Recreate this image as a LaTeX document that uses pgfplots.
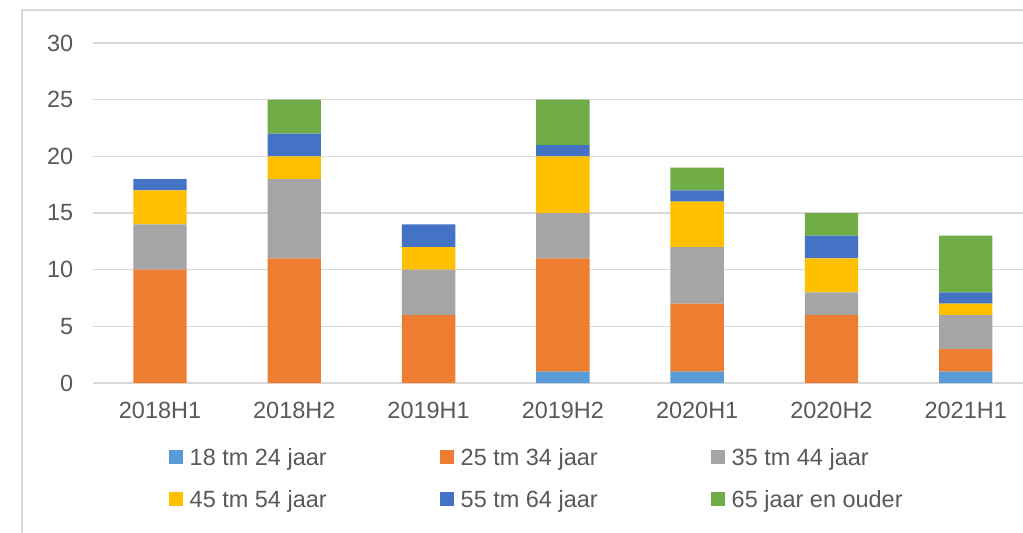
\documentclass[border=0pt]{standalone}
\usepackage{fontspec}
\setmainfont{Liberation Sans}
\usepackage{pgfplots}
\pgfplotsset{compat=1.18}
\definecolor{c1}{HTML}{5B9BD5}
\definecolor{c2}{HTML}{ED7D31}
\definecolor{c3}{HTML}{A5A5A5}
\definecolor{c4}{HTML}{FFC000}
\definecolor{c5}{HTML}{4472C4}
\definecolor{c6}{HTML}{70AD47}
\definecolor{txt}{HTML}{595959}
\definecolor{gridc}{HTML}{D9D9D9}
\pgfplotsset{sq/.style={legend image code/.code={\path[##1,draw=none] (0pt,1.05pt) rectangle (10.5pt,11.55pt);}}}
\newcommand{\legent}[1]{\makebox[187.5pt][l]{#1}}
\begin{document}
\begin{tikzpicture}
\useasboundingbox (0,0) rectangle (767.25pt,399pt);
\clip (0,0) rectangle (767.25pt,399pt);
\fill[white] (0,0) rectangle (767.25pt,399pt);
\draw[color=gridc, line width=1.2pt] (16.5pt,-10pt) rectangle (800pt,391.5pt);
\begin{axis}[
  at={(69.65pt,111.75pt)}, anchor=south west,
  scale only axis, width=705pt, height=255pt,
  ybar stacked, bar width=40pt,
  xmin=-0.5, xmax=6.5, ymin=0, ymax=30,
  xtick={0,...,6},
  xticklabels={2018H1,2018H2,2019H1,2019H2,2020H1,2020H2,2021H1},
  ytick={0,5,...,30},
  ymajorgrids, grid style={color=gridc, line width=1.1pt},
  axis line style={draw=none},
  major tick length=0pt, tick style={draw=none},
  /pgf/number format/assume math mode=true,
  tick label style={font=\fontsize{17.6}{21}\selectfont, text=txt},
  xticklabel style={inner sep=0pt, anchor=north, yshift=-14pt},
  yticklabel style={inner sep=0pt, anchor=east, xshift=-14.5pt},
  legend columns=3,
  legend style={draw=none, fill=none, inner sep=0pt, outer sep=0pt,
    at={(0.0807,-0.1941)}, anchor=north west,
    row sep=18.5pt,
    cells={anchor=base west},
    nodes={inner sep=0pt, text height=12.6pt, text depth=0pt,
      font=\fontsize{17.6}{21}\selectfont, text=txt},
    /tikz/every odd column/.append style={column sep=5.25pt}},
]
\addplot+[sq, fill=c1, draw=none] coordinates {(0,0) (1,0) (2,0) (3,1) (4,1) (5,0) (6,1)};
\addplot+[sq, fill=c2, draw=none] coordinates {(0,10) (1,11) (2,6) (3,10) (4,6) (5,6) (6,2)};
\addplot+[sq, fill=c3, draw=none] coordinates {(0,4) (1,7) (2,4) (3,4) (4,5) (5,2) (6,3)};
\addplot+[sq, fill=c4, draw=none] coordinates {(0,3) (1,2) (2,2) (3,5) (4,4) (5,3) (6,1)};
\addplot+[sq, fill=c5, draw=none] coordinates {(0,1) (1,2) (2,2) (3,1) (4,1) (5,2) (6,1)};
\addplot+[sq, fill=c6, draw=none] coordinates {(0,0) (1,3) (2,0) (3,4) (4,2) (5,2) (6,5)};
\legend{\legent{18 tm 24 jaar}, \legent{25 tm 34 jaar}, \legent{35 tm 44 jaar}, \legent{45 tm 54 jaar}, \legent{55 tm 64 jaar}, \legent{65 jaar en ouder}}
\end{axis}
\end{tikzpicture}
\end{document}
